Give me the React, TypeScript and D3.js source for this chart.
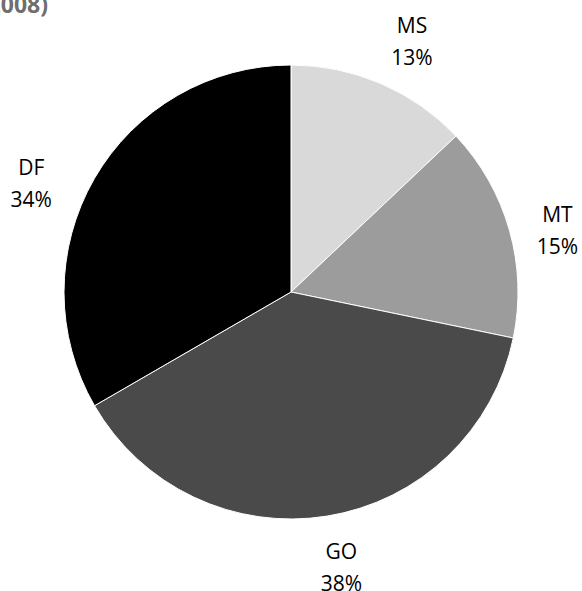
import React from "react";
import * as d3 from "d3";

const categories = ["MS", "MT", "GO", "DF"];
const values = [12.95, 15.3, 38.4, 33.35];
const percentLabels = ["13%", "15%", "38%", "34%"];
const colors = ["#d9d9d9", "#9c9c9c", "#4a4a4a", "#000000"];
const labelNudge: [number, number][] = [[11, 12], [-1, 22], [6, 9], [-19, 38]];

export default function App() {
  const W = 582, H = 591;
  const cx = 291, cy = 292, r = 227, lr = 278;
  const pie = d3.pie<number>().sort(null).value((d) => d)(values);
  const arc = d3.arc<d3.PieArcDatum<number>>().innerRadius(0).outerRadius(r);
  const labelArc = d3.arc<d3.PieArcDatum<number>>().innerRadius(lr).outerRadius(lr);
  return (
    <svg width={W} height={H} style={{ position: "absolute", left: 0, top: 0, background: "#fff" }}>
      <text x={48} y={13} textAnchor="end" fontFamily="Open Sans, sans-serif" fontWeight="bold" fontSize={23} fill="#6e6e6e">(2008)</text>
      <g transform={`translate(${cx},${cy})`}>
        {pie.map((p, i) => (
          <path key={i} d={arc(p) || ""} fill={colors[i]} stroke="#fff" strokeWidth={1} />
        ))}
        {pie.map((p, i) => {
          const [x0, y0] = labelArc.centroid(p);
          const x = x0 + labelNudge[i][0];
          const y = y0 + labelNudge[i][1];
          return (
            <g key={"l" + i}>
              <text x={x} y={y - 16} textAnchor="middle" fontFamily="Open Sans, sans-serif" fontSize={21} fill="#000">{categories[i]}</text>
              <text x={x} y={y + 16} textAnchor="middle" fontFamily="Open Sans, sans-serif" fontSize={21} fill="#000">{percentLabels[i]}</text>
            </g>
          );
        })}
      </g>
    </svg>
  );
}
